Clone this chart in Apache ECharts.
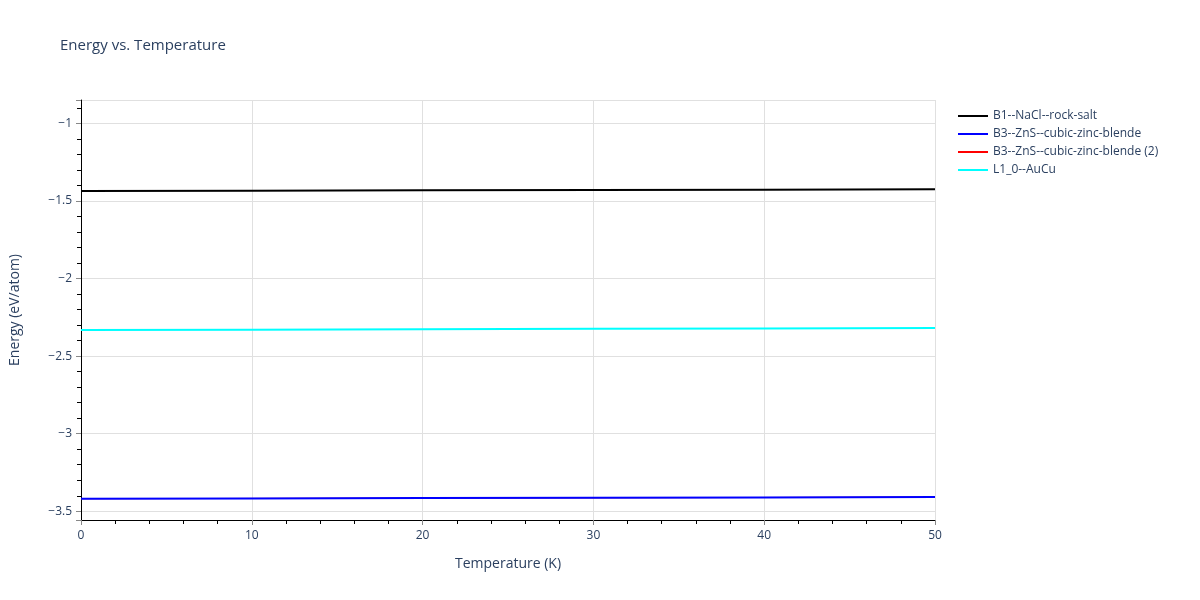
<!DOCTYPE html>
<html><head><meta charset="utf-8">
<script src="https://cdn.jsdelivr.net/npm/echarts@6/dist/echarts.min.js"></script>
<style>html,body{margin:0;padding:0;background:#fff}#c{width:1200px;height:600px}</style>
</head><body><div id="c"></div>
<script>
const temperatures = [0, 10, 20, 30, 40, 50];
const b1NaCl = [-1.436, -1.434, -1.432, -1.430, -1.428, -1.425];
const b3ZnS = [-3.419, -3.417, -3.415, -3.413, -3.411, -3.408];
const b3ZnS2 = [-3.419, -3.417, -3.415, -3.413, -3.411, -3.408];
const l10AuCu = [-2.332, -2.330, -2.327, -2.324, -2.322, -2.319];
const seriesNames = ['B1--NaCl--rock-salt', 'B3--ZnS--cubic-zinc-blende', 'B3--ZnS--cubic-zinc-blende (2)', 'L1_0--AuCu'];
const seriesColors = ['#000000', '#0000ff', '#ff0000', '#00ffff'];
const seriesData = [b1NaCl, b3ZnS, b3ZnS2, l10AuCu];
const zOrder = [4, 3, 2, 5];
const widths = [2, 2, 1, 2];

const font = '"Open Sans", verdana, arial, sans-serif';
const txt = '#2a3f5f';
const chart = echarts.init(document.getElementById('c'));
chart.setOption({
  animation: false,
  backgroundColor: '#fff',
  title: {text: 'Energy vs. Temperature', left: 55, top: 33,
    textStyle: {fontFamily: font, fontSize: 15, fontWeight: 'normal', color: txt}},
  grid: {left: 80, right: 265, top: 100, bottom: 80, containLabel: false},
  legend: {orient: 'vertical', left: 953, top: 105, itemGap: 6, itemWidth: 30, itemHeight: 13,
    textStyle: {fontFamily: font, fontSize: 12, color: txt},
    data: seriesNames.map((n, i) => ({name: n, icon: 'path://M0,0 L30,0 L30,2 L0,2 Z',
      itemStyle: {color: seriesColors[i]}}))},
  xAxis: {type: 'value', min: 0, max: 50, interval: 10,
    name: 'Temperature (K)', nameLocation: 'middle', nameGap: 37,
    nameTextStyle: {fontFamily: font, fontSize: 14, color: txt},
    axisLine: {show: true, onZero: false, lineStyle: {color: '#000', width: 1}},
    axisTick: {show: true, length: 5, lineStyle: {color: '#888'}},
    minorTick: {show: true, splitNumber: 5, length: 4, lineStyle: {color: '#000'}},
    axisLabel: {fontFamily: font, fontSize: 12, color: txt, margin: 10},
    splitLine: {show: true, lineStyle: {color: '#e0e0e0', width: 1}}},
  yAxis: {type: 'value', min: -3.556, max: -0.85, splitNumber: 6,
    name: 'Energy (eV/atom)', nameLocation: 'middle', nameGap: 59,
    nameTextStyle: {fontFamily: font, fontSize: 14, color: txt},
    axisLine: {show: true, onZero: false, lineStyle: {color: '#000', width: 1}},
    axisTick: {show: true, length: 5, lineStyle: {color: '#888'}},
    minorTick: {show: true, splitNumber: 5, length: 4, lineStyle: {color: '#000'}},
    axisLabel: {fontFamily: font, fontSize: 12, color: txt, margin: 9, showMinLabel: false, showMaxLabel: false,
      formatter: v => (v < 0 ? '\u2212' + Math.abs(v) : String(v))},
    splitLine: {show: true, lineStyle: {color: '#e0e0e0', width: 1}}},
  series: seriesNames.map((n, i) => ({
    name: n, type: 'line', symbol: 'none', z: zOrder[i],
    lineStyle: {color: seriesColors[i], width: widths[i]}, itemStyle: {color: seriesColors[i]},
    data: temperatures.map((t, j) => [t, seriesData[i][j]])
  }))
});
</script></body></html>
